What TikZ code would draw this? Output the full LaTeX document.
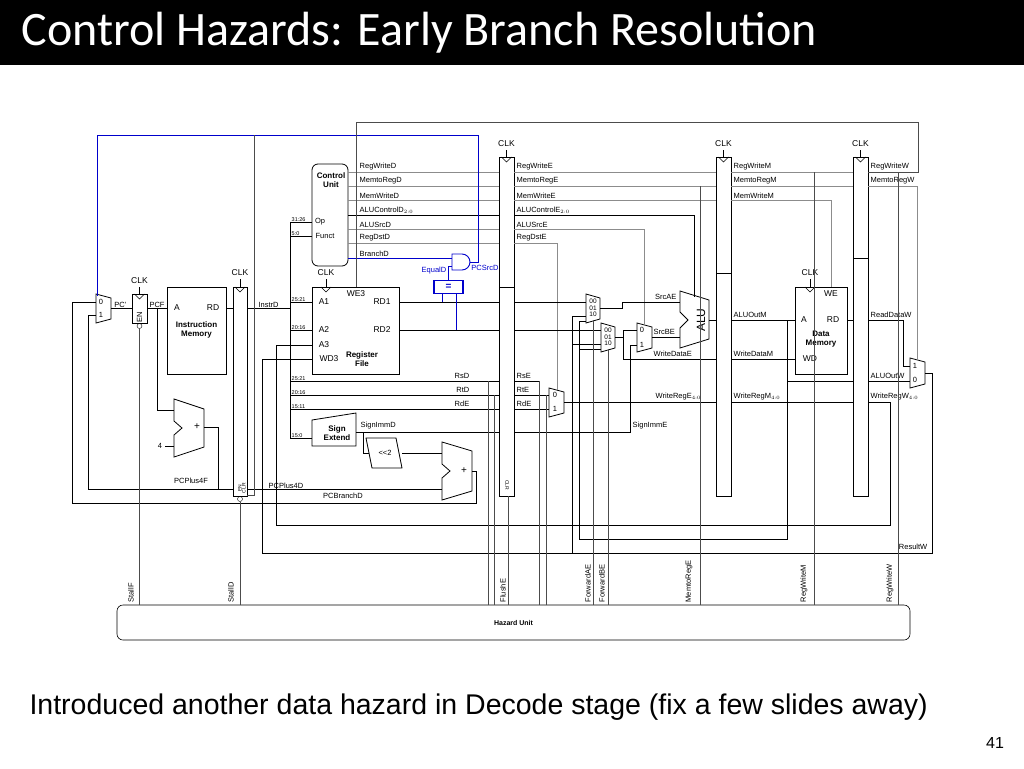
\documentclass[tikz,border=0pt]{standalone}
\usepackage{fontspec}
\setmainfont{Liberation Sans}
\newfontfamily\titlefont{Carlito}
\usetikzlibrary{positioning}
\tikzstyle{lbl} = [inner sep=0.5pt, font=\fontsize{7.5}{8}\selectfont]
\tikzstyle{bits} = [inner sep=0.5pt, font=\fontsize{5.5}{6}\selectfont]
\tikzstyle{unit} = [draw, thick, rectangle, inner sep=0pt]
\tikzstyle{pipereg} = [draw, thick, rectangle, minimum width=15pt, inner sep=0pt]
\tikzstyle{wire} = [thick]
\tikzstyle{ctl} = [draw=black!45, line width=0.5pt]
\tikzstyle{hz} = [draw=black!70, line width=0.5pt]
\tikzstyle{branch} = [draw=blue!80!black, line width=0.9pt]
\tikzstyle{bold} = [font=\bfseries\fontsize{8}{9}\selectfont, align=center, inner sep=0pt]
% mux: name, x, top y, width, height
\newcommand*{\muxat}[5]{%
  \draw [thick] (#2,#3) -- (#2+#4,#3+4) -- (#2+#4,#3+#5-4) -- (#2,#3+#5) -- cycle;
  \coordinate (#1) at (#2,#3);}
% clock tick: x, top y
\newcommand*{\clkat}[2]{%
  \draw [line width=0.4pt] (#1-5,#2) -- (#1,#2+5) -- (#1+5,#2);}
\begin{document}
\begin{tikzpicture}[x=1pt, y=-1pt]
    \useasboundingbox (0,0) rectangle (1024,768);

    % Title and footer.
    \fill [black] (0,0) rectangle (1024,65);
    \node (title) [anchor=west, text=white, font=\titlefont\fontsize{48}{50}\selectfont] at (18,33) {Control Hazards: Early Branch Resolution};
    \node (note) [anchor=west, font=\fontsize{28.5}{30}\selectfont] at (26,707) {Introduced another data hazard in Decode stage (fix a few slides away)};
    \node (page) [font=\fontsize{16}{18}\selectfont] at (995,743) {41};

    % Pipeline registers.
    \node (pc reg) [pipereg, minimum width=15pt, minimum height=29pt] at (139.5,308.5) {};
    \node (fd reg) [pipereg, minimum width=14pt, minimum height=209pt] at (240,391.5) {};
    \node (de reg) [pipereg, minimum height=339pt] at (506.5,326.5) {};
    \node (em reg) [pipereg, minimum height=339pt] at (723.5,326.5) {};
    \node (mw reg) [pipereg, minimum height=339pt] at (860.5,326.5) {};
    \fill [white] (500,158) rectangle (513,286);
    \fill [white] (717,158) rectangle (730,272);
    \fill [white] (854,158) rectangle (867,257);
    \draw [line width=0.5pt] (499,157) rectangle (514,287) (716,157) rectangle (731,273) (853,157) rectangle (868,258);
    \draw [thick] (499,287) -- (514,287) (716,273) -- (731,273) (853,258) -- (868,258);

    % Clocks.
    \foreach \cx/\cy/\ly in {139.5/294/281, 240/287/273, 326/287/273, 506.5/157/144, 723.5/157/144, 860.5/157/144, 810/287/273} {
        \clkat{\cx}{\cy}
        \draw [line width=0.4pt] (\cx,\ly+6) -- (\cx,\cy);
        \node [lbl, font=\fontsize{8.5}{9}\selectfont] at (\cx,\ly) {CLK};
    }
    \node [lbl, rotate=90] at (139.5,317) {EN};
    \node [lbl, rotate=90, font=\fontsize{5}{6}\selectfont] at (240,488) {EN};
    \node [lbl, rotate=90, font=\fontsize{5}{6}\selectfont] at (244,488) {CLR};
    \node [lbl, rotate=270, font=\fontsize{5}{6}\selectfont] at (507,485) {CLR};
    \draw [line width=0.4pt] (139.5,326) circle (2.5) (240,499) circle (2.5);

    % Units.
    \node (imem) [unit, minimum width=59pt, minimum height=87pt] at (196.5,330.5) {};
    \node [lbl, font=\fontsize{8.5}{9}\selectfont] at (177,308) {A};
    \node [lbl, font=\fontsize{8.5}{9}\selectfont] at (213,308) {RD};
    \node [bold] at (196.5,330) {Instruction\\Memory};

    \node (control) [unit, rounded corners=6pt, minimum width=36pt, minimum height=102pt] at (330,215) {};
    \node [bold] at (331,180) {Control\\Unit};
    \node [lbl] at (320,222) {Op};
    \node [lbl] at (325,236) {Funct};

    \node (regfile) [unit, minimum width=87pt, minimum height=87pt] at (355.5,330.5) {};
    \foreach \t/\px/\py in {A1/324/302, A2/324/330, A3/324/345, WD3/329/359, WE3/356/294, RD1/382/302, RD2/382/330}
        \node [lbl, font=\fontsize{8.5}{9}\selectfont] at (\px,\py) {\t};
    \node [bold] at (362,359) {Register\\File};

    \node (dmem) [unit, minimum width=52pt, minimum height=87pt] at (821,330.5) {};
    \foreach \t/\px/\py in {A/804/320, RD/833/320, WD/810/359, WE/831/294}
        \node [lbl, font=\fontsize{8.5}{9}\selectfont] at (\px,\py) {\t};
    \node [bold] at (821,339) {Data\\Memory};

    \draw [thick] (312,420) -- (356,413) -- (356,446) -- (312,446) -- cycle;
    \node (sign ext) [bold] at (337,433) {Sign\\Extend};
    \draw [thick] (366,438) -- (396,438) -- (402,468) -- (372,468) -- cycle;
    \node (shift) [lbl] at (385,453) {{<}{<}2};

    % Adders and ALU.
    \draw [thick] (174,399) -- (204,409) -- (204,447) -- (174,457) -- (174,435) -- (182,428) -- (174,421) -- cycle;
    \node [lbl, font=\fontsize{10}{10}\selectfont] at (197,427) {+};
    \draw [thick] (442,442) -- (472,451) -- (472,491) -- (442,500) -- (442,478) -- (450,471) -- (442,464) -- cycle;
    \node [lbl, font=\fontsize{10}{10}\selectfont] at (464,471) {+};
    \draw [thick] (680,291) -- (709,300) -- (709,339) -- (680,348) -- (680,328) -- (688,320) -- (680,312) -- cycle;
    \node (alu) [rotate=90, font=\fontsize{12}{12}\selectfont, inner sep=0pt] at (701,320) {ALU};

    % Muxes.
    \muxat{pc mux}{96}{294}{15}{29}
    \node [lbl] at (101,302) {0};
    \node [lbl] at (101,315) {1};
    \muxat{srca mux}{586}{294}{14}{29}
    \node [bits, align=center, font=\fontsize{6.5}{6.5}\selectfont] at (593,308) {00\\01\\10};
    \muxat{srcb mux}{601}{323}{14}{29}
    \node [bits, align=center, font=\fontsize{6.5}{6.5}\selectfont] at (608,337) {00\\01\\10};
    \muxat{alusrc mux}{637}{323}{15}{29}
    \node [lbl] at (642,330) {0};
    \node [lbl] at (642,345) {1};
    \muxat{regdst mux}{549}{388}{15}{29}
    \node [lbl] at (555,395) {0};
    \node [lbl] at (555,409) {1};
    \muxat{result mux}{910}{358}{15}{30}
    \node [lbl] at (915,366) {1};
    \node [lbl] at (915,380) {0};

    % Hazard unit.
    \node (hazard) [draw, line width=0.6pt, rounded corners=6pt, minimum width=793pt, minimum height=35pt, font=\bfseries\fontsize{7}{8}\selectfont] at (513.5,622.5) {Hazard Unit};

    % Fetch stage.
    \draw [wire] (111,308) -- node [lbl, above, pos=0.45] {PC'} (132,308);
    \draw [wire] (147,308) -- node [lbl, above] {PCF} (167,308);
    \draw [wire] (157,308) |- (174,410);
    \draw [wire] (165,446) -- (174,446);
    \node [lbl] at (160,446) {4};
    \draw [wire] (204,427) -| (218,489);
    \draw [wire] (226,308) -- (233,308);
    \draw [wire] (96,315) -| (88,489) -- (233,489);
    \node [lbl] at (191,481) {PCPlus4F};
    \draw [wire] (96,302) -| (72,503) -- (476,503) |- (472,471);
    \node [lbl] at (343,503-7) {PCBranchD};

    % Decode stage.
    \draw [wire] (247,308) -- node [lbl, above] {InstrD} (290,308);
    \draw [wire] (290,222) -- (290,438);
    \foreach \yy/\bb/\xe in {222/31:26/312, 236/5:0/312, 302/25:21/312, 330/20:16/312, 438/15:0/312, 381/25:21/499, 395/20:16/499, 409/15:11/499} {
        \draw [wire] (290,\yy) -- (\xe,\yy);
        \node [bits, anchor=south west] at (291,\yy) {\bb};
    }
    \node [lbl, anchor=south east] at (470,379) {RsD};
    \node [lbl, anchor=south east] at (470,393) {RtD};
    \node [lbl, anchor=south east] at (470,407) {RdE};
    \draw [wire] (247,489) -- node [lbl, above, pos=0.2] {PCPlus4D} (442,489);
    \draw [wire] (356,432) -- (499,432);
    \node [lbl, anchor=south west] at (360,430) {SignImmD};
    \draw [wire] (363,432) |- (369,453);
    \draw [wire] (402,453) -- (442,453);
    \draw [wire] (399,302) -- (499,302);
    \draw [wire] (399,330) -- (499,330);
    \draw [wire] (276,525) -- (276,345) -- (312,345);
    \draw [wire] (262,553) -- (262,359) -- (312,359);

    % Control signals, decode to execute.
    \foreach \yy/\t in {172/RegWriteD, 186/MemtoRegD, 200/MemWriteD, 215/ALUControlD$_{2:0}$, 229/ALUSrcD, 243/RegDstD} {
        \draw [ctl] (348,\yy) -- (499,\yy);
        \node [lbl, anchor=south west] at (359,\yy-1) {\t};
    }
    \draw [thick] (348,215) -- (499,215);
    \node [lbl, anchor=south west] at (359,257) {BranchD};

    % Early branch resolution.
    \node (equal) [draw=blue!80!black, line width=1.2pt, minimum width=29pt, minimum height=13pt, inner sep=0pt, text=blue!80!black, font=\bfseries\fontsize{10}{10}\selectfont] at (448.5,287) {=};
    \draw [branch] (442,293) -- (442,302);
    \draw [branch] (456,293) -- (456,330);
    \draw [branch, fill=white] (452,254) -- (462,254) arc (-90:90:8) -- (452,270) -- cycle;
    \draw [branch] (348,258) -- (452,258);
    \draw [branch] (448,280) |- (452,266);
    \node [lbl, text=blue!80!black] at (434,271) {EqualD};
    \draw [branch] (470,262) -- (478,262) |- (97,135) -- (97,296);
    \node [lbl, text=blue!80!black] at (485,268) {PCSrcD};
    \draw [hz] (254,135) -- (254,495) -- (247,495);
    \draw [hz] (356,287) -- (356,122) -| (918,172) -- (868,172);

    % Execute stage.
    \foreach \yy/\t in {172/RegWriteE, 186/MemtoRegE, 200/MemWriteE} {
        \draw [ctl] (514,\yy) -- (716,\yy);
        \node [lbl, anchor=south west] at (516,\yy-1) {\t};
    }
    \draw [thick] (514,215) -| (694,297);
    \node [lbl, anchor=south west] at (516,214) {ALUControlE$_{2:0}$};
    \draw [ctl] (514,229) -| (644,325);
    \node [lbl, anchor=south west] at (516,228) {ALUSrcE};
    \draw [ctl] (514,243) -| (557,390);
    \node [lbl, anchor=south west] at (516,242) {RegDstE};
    \draw [wire] (514,302) -- (586,302);
    \draw [wire] (514,330) -- (601,330);
    \draw [wire] (600,308) -- (622,308) |- (680,302);
    \node [lbl, anchor=south east] at (677,300) {SrcAE};
    \draw [wire] (615,337) -- (623,337) |- (637,330);
    \draw [wire] (623,337) |- (716,359);
    \node [lbl, anchor=south west] at (653,357) {WriteDataE};
    \draw [wire] (652,337) -- (680,337);
    \node [lbl, anchor=south west] at (653,335) {SrcBE};
    \draw [wire] (514,432) -| (630,345) -- (637,345);
    \node [lbl, anchor=south west] at (632,430) {SignImmE};
    \draw [wire] (514,381) -- (539,381);
    \node [lbl, anchor=south west] at (516,379) {RsE};
    \draw [wire] (514,395) -- (549,395);
    \node [lbl, anchor=south west] at (516,393) {RtE};
    \draw [wire] (514,409) -- (549,409);
    \node [lbl, anchor=south west] at (516,407) {RdE};
    \draw [wire] (564,402) -- (716,402);
    \node [lbl, anchor=south west] at (655,401) {WriteRegE$_{4:0}$};
    \draw [wire] (709,320) -- (716,320);

    % Forwarding paths.
    \draw [wire] (572,553) |- (586,316);
    \draw [wire] (572,344) -- (601,344);
    \draw [wire] (579,539) |- (586,316+5);
    \draw [wire] (579,349) -- (601,349);
    \draw [wire] (579,539) -| (787,320);

    % Memory stage.
    \foreach \yy/\t in {172/RegWriteM, 186/MemtoRegM} {
        \draw [ctl] (731,\yy) -- (853,\yy);
        \node [lbl, anchor=south west] at (733,\yy-1) {\t};
    }
    \draw [ctl] (731,200) -| (831,287);
    \node [lbl, anchor=south west] at (733,199) {MemWriteM};
    \draw [wire] (731,320) -- (795,320);
    \node [lbl, anchor=south west] at (733,318) {ALUOutM};
    \draw [wire] (731,359) -- (795,359);
    \node [lbl, anchor=south west] at (733,357) {WriteDataM};
    \draw [wire] (787,320) |- (853,381);
    \draw [wire] (731,402) -- (853,402);
    \node [lbl, anchor=south west] at (733,401) {WriteRegM$_{4:0}$};
    \draw [wire] (847,320) -- (853,320);

    % Writeback stage.
    \draw [ctl] (868,186) -| (917,360);
    \node [lbl, anchor=south west] at (870,185) {MemtoRegW};
    \node [lbl, anchor=south west] at (870,171) {RegWriteW};
    \draw [wire] (868,320) -| (903,366) -- (910,366);
    \node [lbl, anchor=south west] at (870,318) {ReadDataW};
    \draw [wire] (868,381) -- (910,381);
    \node [lbl, anchor=south west] at (870,379) {ALUOutW};
    \draw [wire] (868,402) -- (890,402) |- (276,525);
    \node [lbl, anchor=south west] at (870,401) {WriteRegW$_{4:0}$};
    \draw [wire] (925,373) -- (932,373) |- (262,553);
    \node [lbl, anchor=south east] at (928,550) {ResultW};

    % Hazard unit signals.
    \draw [hz] (139.5,329) -- (139.5,605);
    \node [lbl, rotate=90, anchor=west] at (131,603) {StallF};
    \draw [hz] (240,502) -- (240,605);
    \node [lbl, rotate=90, anchor=west] at (231,603) {StallD};
    \draw [hz] (488,381) -- (488,605) (494,395) -- (494,605);
    \draw [hz] (508,496) -- (508,605);
    \node [lbl, rotate=90, anchor=west] at (503,603) {FlushE};
    \draw [hz] (539,381) -- (539,605) (546,395) -- (546,605);
    \draw [hz] (593,320) -- (593,605);
    \node [lbl, rotate=90, anchor=west] at (588,603) {ForwardAE};
    \draw [hz] (608,349) -- (608,605);
    \node [lbl, rotate=90, anchor=west] at (602,603) {ForwardBE};
    \draw [hz] (700,186) -- (700,605);
    \node [lbl, rotate=90, anchor=west] at (689,603) {MemtoRegE};
    \draw [hz] (814,172) -- (814,605);
    \node [lbl, rotate=90, anchor=west] at (804,603) {RegWriteM};
    \draw [hz] (898,172) -- (898,605);
    \node [lbl, rotate=90, anchor=west] at (890,603) {RegWriteW};
\end{tikzpicture}
\end{document}
